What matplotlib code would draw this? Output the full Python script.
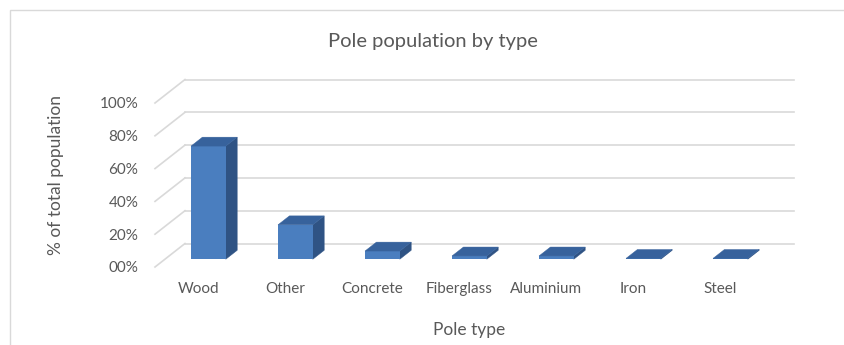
import matplotlib
matplotlib.use("Agg")
import matplotlib.pyplot as plt
from matplotlib.patches import Polygon, Rectangle

categories = ["Wood", "Other", "Concrete", "Fiberglass", "Aluminium", "Iron", "Steel"]
share_pct = [69, 21, 5, 2, 2, 0.5, 0.5]
y_ticks = [0, 20, 40, 60, 80, 100]
y_tick_labels = ["00%", "20%", "40%", "60%", "80%", "100%"]

plt.rcParams["font.family"] = ["Lato", "DejaVu Sans"]

TEXT = "#595959"
GRID = "#d9d9d9"
FRONT, SIDE, TOP = "#4a7ebf", "#2f5384", "#37629c"

W, H, DPI = 845, 345, 100
SLOT_PX = 87.0          # width of one category slot
PCT_PX = 1.64           # pixels per percentage point
X0_PX, Y0_PX = 155, 267  # front-left corner of the floor
DEPTH_X = 30 / SLOT_PX   # oblique offset of the back wall, data units
DEPTH_Y = 23.5 / PCT_PX
BAR_W = 0.4
D_FRONT, D_BACK = 0.33, 0.71  # bar depth span as fraction of floor depth

fig = plt.figure(figsize=(W / DPI, H / DPI), dpi=DPI)

# light chart-area frame
fig.patches.append(Rectangle((10 / W, -0.1), 1.2, (H - 10) / H + 0.1,
                             transform=fig.transFigure, fill=False,
                             edgecolor="#d9d9d9", linewidth=1.0))

ax_l, ax_r, ax_t = X0_PX, 805, 72
ax = fig.add_axes([ax_l / W, (H - Y0_PX) / H, (ax_r - ax_l) / W, (Y0_PX - ax_t) / H])
ax.set_xlim(-0.5, -0.5 + (ax_r - ax_l) / SLOT_PX)
ax.set_ylim(0, (Y0_PX - ax_t) / PCT_PX)
ax.patch.set_visible(False)
for s in ax.spines.values():
    s.set_visible(False)

n = len(categories)
# back wall gridlines plus the side wall diagonals
for g in y_ticks:
    ax.plot([-0.5 + DEPTH_X, n - 0.5 + DEPTH_X], [g + DEPTH_Y, g + DEPTH_Y],
            color=GRID, lw=1.2, zorder=1, clip_on=False)
    ax.plot([-0.5, -0.5 + DEPTH_X], [g, g + DEPTH_Y],
            color=GRID, lw=1.2, zorder=1, clip_on=False)

fx, fy = D_FRONT * DEPTH_X, D_FRONT * DEPTH_Y
bx, by = D_BACK * DEPTH_X, D_BACK * DEPTH_Y
xs = [i + fx for i in range(n)]
ax.bar(xs, share_pct, width=BAR_W, bottom=fy, color=FRONT, linewidth=0, zorder=3)
for i, v in enumerate(share_pct):
    xl, xr = i - BAR_W / 2, i + BAR_W / 2
    side = [(xr + fx, fy), (xr + bx, by), (xr + bx, by + v), (xr + fx, fy + v)]
    top = [(xl + fx, fy + v), (xr + fx, fy + v), (xr + bx, by + v), (xl + bx, by + v)]
    ax.add_patch(Polygon(side, closed=True, facecolor=SIDE, edgecolor=SIDE,
                         lw=0.3, zorder=2))
    ax.add_patch(Polygon(top, closed=True, facecolor=TOP, edgecolor=TOP,
                         lw=0.3, zorder=4))

ax.set_xticks(range(n))
ax.set_xticklabels(categories)
ax.set_yticks(y_ticks)
ax.set_yticklabels(y_tick_labels)
ax.tick_params(axis="x", length=0, pad=11, labelsize=11, labelcolor=TEXT)
ax.tick_params(axis="y", length=0, pad=12, labelsize=11, labelcolor=TEXT)

fig.text(433 / W, 1 - 42 / H, "Pole population by type", ha="center", va="center",
         fontsize=14.5, color=TEXT)
fig.text(469 / W, 1 - 330 / H, "Pole type", ha="center", va="center",
         fontsize=12.5, color=TEXT)
fig.text(56 / W, 1 - 175 / H, "% of total population", ha="center", va="center",
         rotation=90, fontsize=12.5, color=TEXT)

fig.savefig("out.png", dpi=DPI)
